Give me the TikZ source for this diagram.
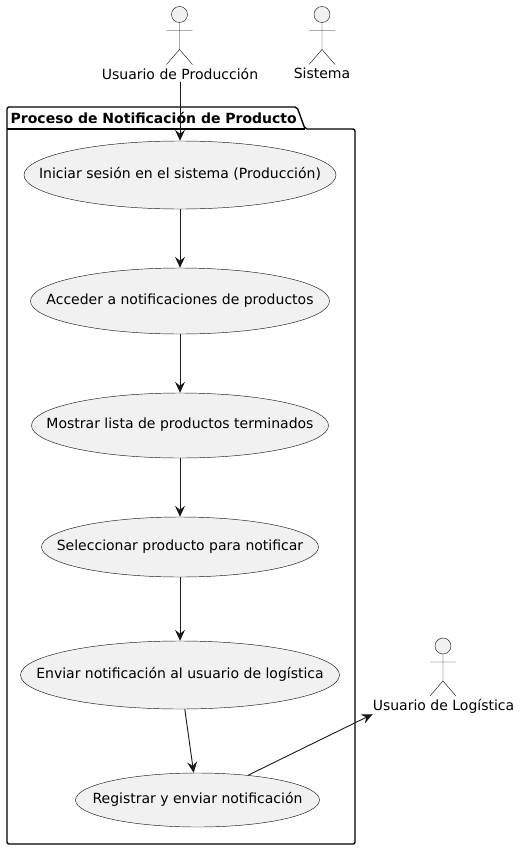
\documentclass[tikz,border=0pt]{standalone}
\usepackage{fontspec}
\setmainfont{DejaVu Sans}
\usetikzlibrary{shapes.geometric,arrows.meta,calc}
\definecolor{ucfill}{HTML}{F1F1F1}
\definecolor{ucline}{HTML}{181818}
\newcommand{\uctext}[1]{\raisebox{-0.44em}{\makebox[0pt]{\smash{#1}}}}
\tikzset{
  x=1pt,y=-1pt,
  usecase/.style={ellipse,draw=ucline,fill=ucfill,line width=0.45pt,inner sep=0pt,font=\fontsize{14}{16}\selectfont,text=black},
  actorlabel/.style={inner sep=0pt,font=\fontsize{14}{16}\selectfont,text=black,anchor=center,minimum height=16pt},
  actorline/.style={draw=ucline,line width=0.45pt,fill=none},
  flow/.style={draw=ucline,line width=0.9pt,-{Stealth[length=11pt,width=10pt,inset=4pt]}},
  pkg/.style={draw=black,line width=1.4pt,line join=round,fill=none},
  pkglabel/.style={inner sep=0pt,font=\bfseries\fontsize{14}{16}\selectfont,text=black,anchor=west}
}
\newcommand{\actorfig}[2]{%
  \draw[actorline,fill=ucfill] (#1,#2) circle[radius=8];
  \draw[actorline] (#1,#2+8) -- (#1,#2+35)
    (#1-13,#2+16) -- (#1+13,#2+16)
    (#1-13,#2+50) -- (#1,#2+35) -- (#1+13,#2+50);
}
\begin{document}
\begin{tikzpicture}
\useasboundingbox (0,0) rectangle (520,849);
% package
\draw[pkg,rounded corners=2pt] (7,129) -- (7,107) -- (297,107) -- (305,129) -- (355,129) -- (355,844) -- (7,844) -- cycle;
\draw[pkg] (7,129) -- (305,129);
\node[pkglabel] (pkgt) at (10.5,117.5) {Proceso de Notificación de Producto};
% actors
\actorfig{179.5}{14.5}
\actorfig{322}{14.5}
\actorfig{443}{646}
\node[actorlabel] (prod) at (180,73.5) {Usuario de Producción};
\node[actorlabel] (sis) at (322,73.5) {Sistema};
\node[actorlabel] (log) at (443.5,706) {Usuario de Logística};
% use cases
\node[usecase,minimum width=312pt,minimum height=68pt] (u1) at (180,175) {\uctext{Iniciar sesión en el sistema (Producción)}};
\node[usecase,minimum width=299pt,minimum height=66pt] (u2) at (180,301) {\uctext{Acceder a notificaciones de productos}};
\node[usecase,minimum width=297pt,minimum height=65pt] (u3) at (180,425.5) {\uctext{Mostrar lista de productos terminados}};
\node[usecase,minimum width=277pt,minimum height=60pt] (u4) at (180,547) {\uctext{Seleccionar producto para notificar}};
\node[usecase,minimum width=319pt,minimum height=68pt] (u5) at (180,675) {\uctext{Enviar notificación al usuario de logística}};
\node[usecase,minimum width=244pt,minimum height=54pt] (u6) at (197.5,800) {\uctext{Registrar y enviar notificación}};
% connectors
\draw[flow] (prod.south) -- (u1.north);
\draw[flow] (u1) -- (u2);
\draw[flow] (u2) -- (u3);
\draw[flow] (u3) -- (u4);
\draw[flow] (u4) -- (u5);
\draw[flow] (u5) -- (u6);
\draw[flow] (u6) -- (log.south west);
\end{tikzpicture}
\end{document}
